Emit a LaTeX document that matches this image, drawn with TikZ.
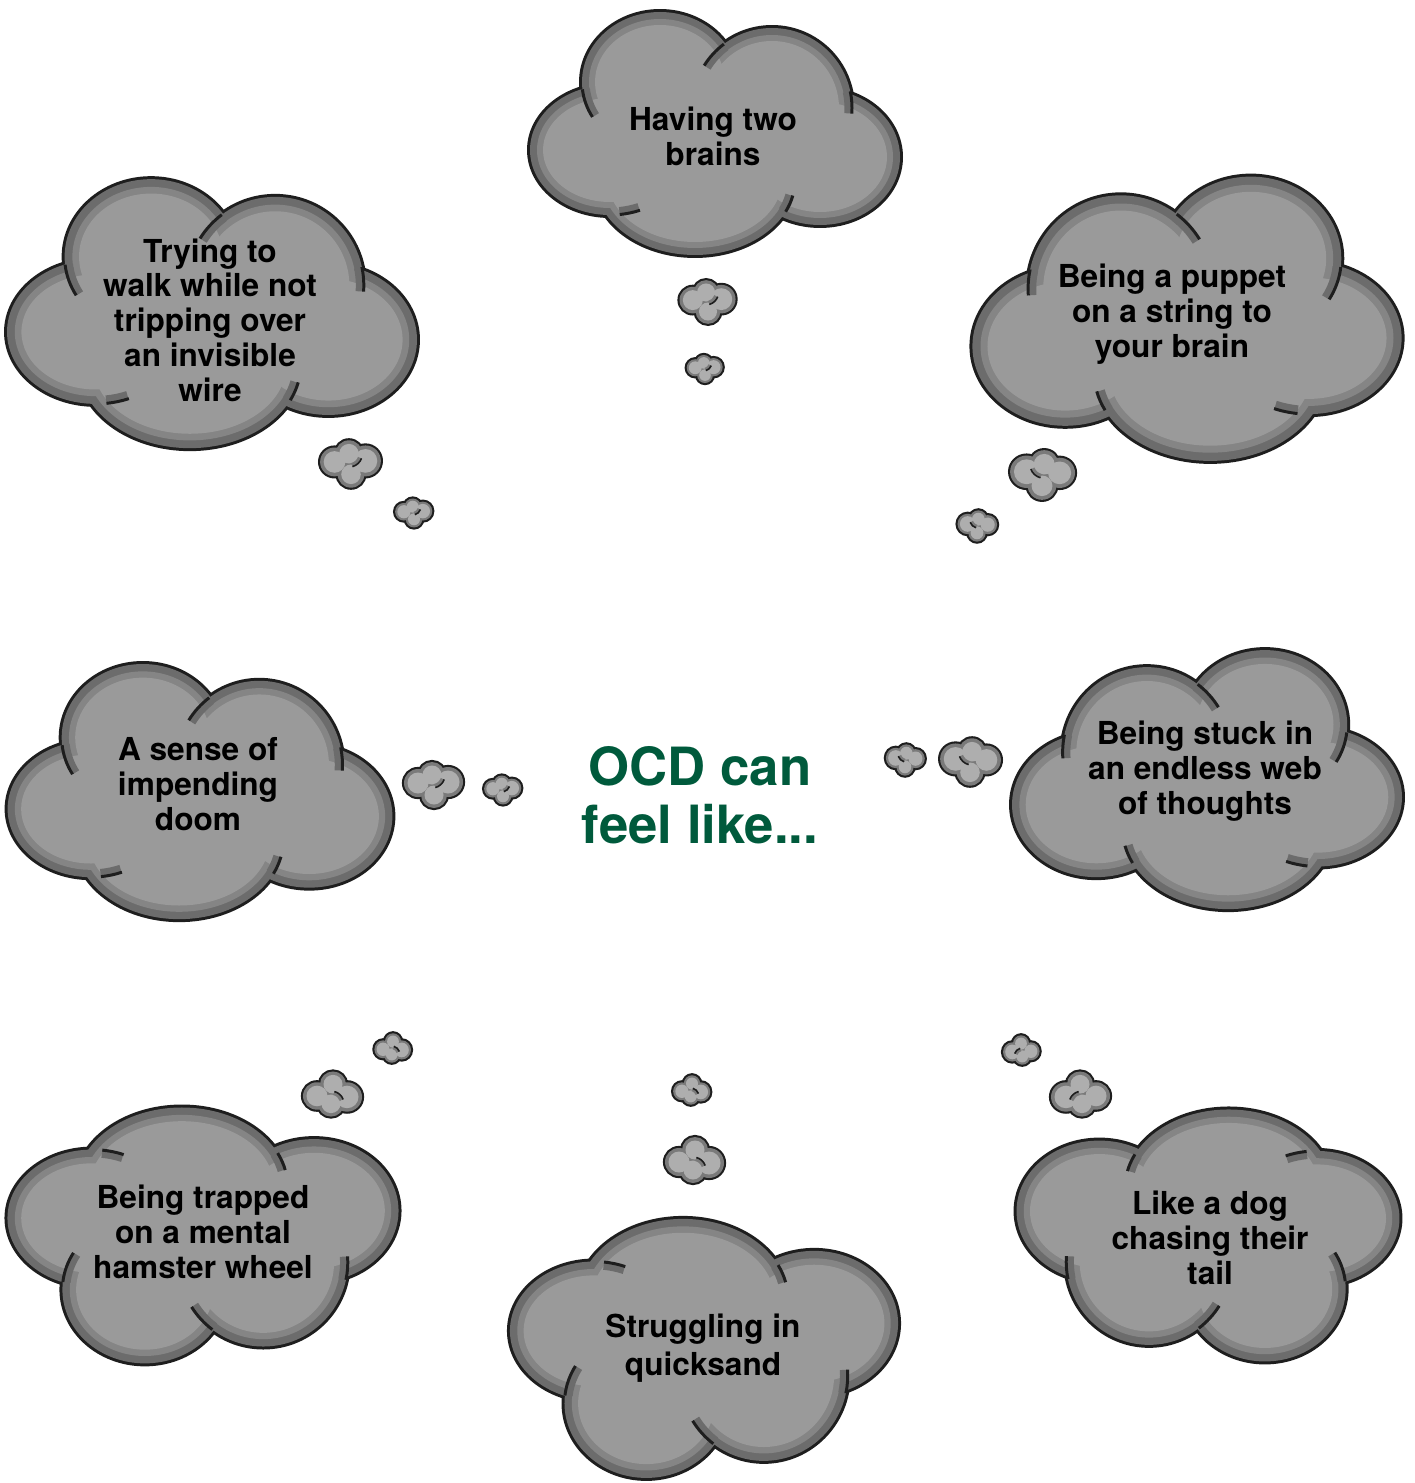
\documentclass[tikz,border=0pt]{standalone}
\usepackage{fontspec}
\setmainfont{TeX Gyre Heros}

\definecolor{cloudline}{HTML}{1E1E1E}
\definecolor{cloudrim}{HTML}{6C6C6C}
\definecolor{cloudband}{HTML}{858585}
\definecolor{cloudfill}{HTML}{9A9A9A}
\definecolor{ocdgreen}{HTML}{005A3C}

% lobes of a big cloud: x/y/x radius/y radius (pixels, y down)
\newcommand\cloudlobes{-55/-50/78/70, 57/-24/80/80, -105/18/80/65, 105/25/80/68, -20/48/100/75, 0/0/140/80}
% inner strokes: x/y/x radius/y radius/start/end
\newcommand\cloudarcs{57/-24/80/80/233/212, -55/-50/78/70/174/150, 57/-24/80/80/-12/4, -105/18/80/65/83/68, -20/48/100/75/25/12}
% lobes of a small puff
\newcommand\puffblobs{-16/-2/14, -2/-10/13, 14/-3/15, 0/10/13}

\tikzset{
    cloud/.pic={
        \foreach \cx/\cy/\rx/\ry in \cloudlobes
            \draw[cloudline, line width=3.4pt] (\cx,\cy) ellipse[x radius=\rx, y radius=\ry];
        \foreach \cx/\cy/\rx/\ry in \cloudlobes
            \fill[cloudrim] (\cx,\cy) ellipse[x radius=\rx, y radius=\ry];
        \foreach \cx/\cy/\rx/\ry in \cloudlobes
            \fill[cloudband] (\cx,\cy) ellipse[x radius=\rx-7, y radius=\ry-7];
        \foreach \cx/\cy/\rx/\ry in \cloudlobes
            \fill[cloudfill] (\cx,\cy) ellipse[x radius=\rx-13, y radius=\ry-13];
        \foreach \cx/\cy/\rx/\ry/\s/\e in \cloudarcs {
            \draw[cloudrim, line width=4pt] (\cx,\cy) ++(\s:{\rx-4} and {\ry-4})
                arc[start angle=\s, end angle=\e, x radius=\rx-4, y radius=\ry-4];
            \draw[cloudline, line width=1.7pt] (\cx,\cy) ++(\s:{\rx} and {\ry})
                arc[start angle=\s, end angle=\e, x radius=\rx, y radius=\ry];
        }
    },
    puff/.pic={
        \foreach \cx/\cy/\r in \puffblobs
            \draw[cloudline, line width=2.4pt] (\cx,\cy) circle[radius=\r];
        \foreach \cx/\cy/\r in \puffblobs
            \fill[cloudrim!70!cloudfill] (\cx,\cy) circle[radius=\r];
        \foreach \cx/\cy/\r in \puffblobs
            \fill[cloudfill!80!white] (\cx,\cy) circle[radius=\r-3.5];
        \draw[cloudrim!70!cloudfill, line width=2pt] (-2,-10) ++(20:11) arc[start angle=20, end angle=75, radius=11];
        \draw[cloudline, line width=0.9pt] (-2,-10) ++(20:13) arc[start angle=20, end angle=75, radius=13];
    },
    cloudtext/.style={align=center, text=black, inner sep=0pt,
        font=\bfseries\fontsize{18}{19.8}\selectfont},
    title/.style={align=center, text=ocdgreen, inner sep=0pt,
        font=\bfseries\fontsize{30}{33}\selectfont}
}

\begin{document}
\begin{tikzpicture}[x=0.02cm, y=-0.02cm]
    \useasboundingbox (0,0) rectangle (1415,1483);

    % big clouds
    \pic at (715,132) {cloud};
    \pic[xscale=1.108, yscale=1.107] at (212,312) {cloud};
    \pic[xscale=-1.16, yscale=1.17] at (1187,317) {cloud};
    \pic[xscale=1.04, yscale=1.05] at (200,790) {cloud};
    \pic[xscale=-1.054, yscale=1.066] at (1207,778) {cloud};
    \pic[xscale=1.057, yscale=-1.053] at (203,1237) {cloud};
    \pic[xscale=1.049, yscale=-1.066] at (704,1350) {cloud};
    \pic[xscale=-1.035, yscale=-1.037] at (1208,1237) {cloud};

    % thought puffs
    \pic[scale=1.03] at (351,464) {puff};
    \pic[scale=0.63] at (414,513) {puff};
    \pic[scale=0.95] at (708,302) {puff};
    \pic[scale=0.61] at (705,369) {puff};
    \pic[xscale=-1.1, yscale=1.08] at (1042,475) {puff};
    \pic[xscale=-0.67, yscale=0.68] at (977,526) {puff};
    \pic[scale=1.0] at (434,785) {puff};
    \pic[scale=0.63] at (503,790) {puff};
    \pic[xscale=-1.03, yscale=1.03] at (970,762) {puff};
    \pic[xscale=-0.66, yscale=0.68] at (905,760) {puff};
    \pic[xscale=1.0, yscale=-0.98] at (333,1094) {puff};
    \pic[xscale=0.62, yscale=-0.64] at (393,1048) {puff};
    \pic[xscale=1.0, yscale=-1.0] at (695,1160) {puff};
    \pic[xscale=0.63, yscale=-0.64] at (692,1090) {puff};
    \pic[xscale=-1.0, yscale=-0.98] at (1080,1094) {puff};
    \pic[xscale=-0.62, yscale=-0.64] at (1021,1050) {puff};

    % texts
    \node[title] (ocd) at (700,795) {OCD can\\feel like...};
    \node[cloudtext] (brains) at (713,136) {Having two\\brains};
    \node[cloudtext] (wire) at (210,320) {Trying to\\walk while not\\tripping over\\an invisible\\wire};
    \node[cloudtext] (puppet) at (1172,314) {Being a puppet\\on a string to\\your brain};
    \node[cloudtext] (doom) at (198,784) {A sense of\\impending\\doom};
    \node[cloudtext] (web) at (1205,771) {Being stuck in\\an endless web\\of thoughts};
    \node[cloudtext] (hamster) at (203,1232) {Being trapped\\on a mental\\hamster wheel};
    \node[cloudtext, font=\bfseries\fontsize{18}{21.5}\selectfont] (quicksand) at (703,1348) {Struggling in\\quicksand};
    \node[cloudtext] (dog) at (1210,1238) {Like a dog\\chasing their\\tail};
\end{tikzpicture}
\end{document}
